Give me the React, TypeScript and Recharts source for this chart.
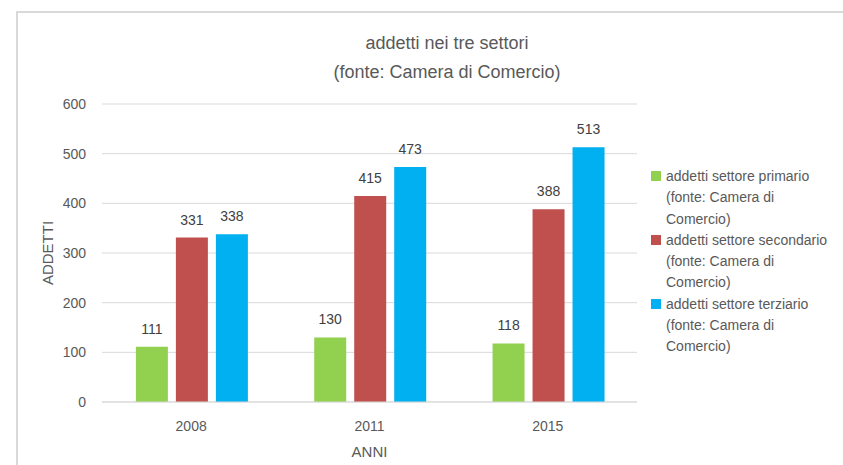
import React from 'react';
import { BarChart, Bar, XAxis, YAxis, CartesianGrid, LabelList, Label } from 'recharts';

const anni = ['2008', '2011', '2015'];
const primario = [111, 130, 118];
const secondario = [331, 415, 388];
const terziario = [338, 473, 513];
const yTicks = [0, 100, 200, 300, 400, 500, 600];

const serie = [
  { key: 'primario', name: 'addetti settore primario (fonte: Camera di Comercio)', color: '#92D050' },
  { key: 'secondario', name: 'addetti settore secondario (fonte: Camera di Comercio)', color: '#C0504D' },
  { key: 'terziario', name: 'addetti settore terziario (fonte: Camera di Comercio)', color: '#00B0F0' },
];

const data = anni.map((anno, i) => ({
  anno,
  primario: primario[i],
  secondario: secondario[i],
  terziario: terziario[i],
}));

const FONT = '"Liberation Sans", Arial, sans-serif';
const GREY = '#595959';

export default function App() {
  return (
    <div
      style={{
        position: 'absolute',
        left: 0,
        top: 0,
        width: 843,
        height: 465,
        background: '#fff',
        overflow: 'hidden',
        fontFamily: FONT,
      }}
    >
      {/* cornice del grafico */}
      <div
        style={{
          position: 'absolute',
          left: 16,
          top: 11,
          width: 840,
          height: 470,
          borderLeft: '2px solid #D9D9D9',
          borderTop: '2px solid #D9D9D9',
        }}
      />
      <div
        style={{
          position: 'absolute',
          top: 29,
          left: 0,
          width: 894,
          textAlign: 'center',
          fontSize: 18,
          lineHeight: '29px',
          color: GREY,
        }}
      >
        addetti nei tre settori
        <br />
        (fonte: Camera di Comercio)
      </div>
      <div style={{ position: 'absolute', left: 0, top: 0 }}>
        <BarChart
          width={843}
          height={465}
          data={data}
          margin={{ top: 104, right: 206, left: 42, bottom: 33 }}
          barCategoryGap="19%"
          barGap={8}
        >
          <CartesianGrid vertical={false} stroke="#D9D9D9" />
          <XAxis
            dataKey="anno"
            axisLine={{ stroke: '#D9D9D9' }}
            tickLine={false}
            tickSize={0}
            tickMargin={19}
            height={30}
            tick={{ fontSize: 14, fill: GREY, fontFamily: FONT }}
          >
            <Label value="ANNI" position="bottom" offset={14} style={{ fontSize: 15, fill: GREY, fontFamily: FONT }} />
          </XAxis>
          <YAxis
            domain={[0, 600]}
            ticks={yTicks}
            width={60}
            axisLine={false}
            tickLine={false}
            tickSize={0}
            tickMargin={16}
            tick={{ fontSize: 14, fill: GREY, fontFamily: FONT }}
          >
            <Label
              value="ADDETTI"
              angle={-90}
              position="insideLeft"
              offset={0}
              dx={6}
              style={{ fontSize: 15, fill: GREY, fontFamily: FONT, textAnchor: 'middle' }}
            />
          </YAxis>
          {serie.map((s) => (
            <Bar key={s.key} dataKey={s.key} name={s.name} fill={s.color} isAnimationActive={false}>
              <LabelList dataKey={s.key} position="top" offset={13} style={{ fontSize: 14, fill: '#404040', fontFamily: FONT }} />
            </Bar>
          ))}
        </BarChart>
      </div>
      {/* legenda */}
      <div style={{ position: 'absolute', left: 651, top: 166, width: 185 }}>
        {serie.map((s) => (
          <div key={s.key} style={{ display: 'flex', alignItems: 'flex-start', fontSize: 14, lineHeight: '21.25px', color: GREY }}>
            <span
              style={{
                display: 'inline-block',
                width: 10,
                height: 10,
                background: s.color,
                marginTop: 5,
                marginRight: 5,
                flexShrink: 0,
              }}
            />
            <span>{s.name}</span>
          </div>
        ))}
      </div>
    </div>
  );
}
